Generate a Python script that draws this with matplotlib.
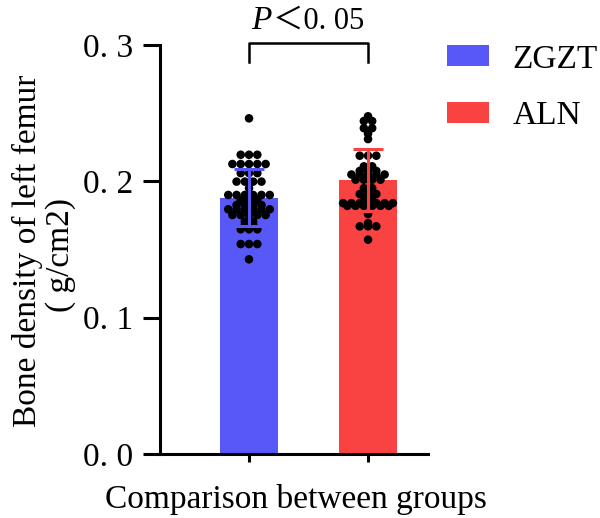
import numpy as np
import matplotlib
matplotlib.use("Agg")
import matplotlib.pyplot as plt
from matplotlib.patches import Patch

plt.rcParams['font.family'] = ['Liberation Serif', 'Noto Sans CJK SC']

# ---------------- data ----------------
groups = ["ZGZT", "ALN"]
bar_colors = ["#5858F9", "#F94343"]
means = [0.188, 0.201]
sds = [0.021, 0.0225]

zgzt_values = [0.2462,
               0.2195, 0.2195, 0.2195,
               0.2127, 0.2127, 0.2127, 0.2127, 0.2127,
               0.2060, 0.2060, 0.2060,
               0.1998, 0.1998, 0.1998, 0.1998,
               0.1950,
               0.1900, 0.1900, 0.1900, 0.1900, 0.1900, 0.1900,
               0.1863, 0.1863, 0.1863,
               0.1826, 0.1826, 0.1826, 0.1826,
               0.1795, 0.1795, 0.1795, 0.1795, 0.1795, 0.1795,
               0.1753, 0.1753, 0.1753, 0.1753, 0.1753,
               0.1704, 0.1704,
               0.1680, 0.1680,
               0.1648, 0.1648, 0.1648,
               0.1540, 0.1540, 0.1540,
               0.1428]
aln_values = [0.2477, 0.2442, 0.2442, 0.2390, 0.2390, 0.2350, 0.2310,
              0.2188, 0.2188, 0.2188,
              0.2110, 0.2110,
              0.2076, 0.2076, 0.2076,
              0.2050, 0.2050, 0.2050, 0.2050, 0.2050,
              0.2012, 0.2012, 0.2012, 0.2012,
              0.1950, 0.1950,
              0.1907, 0.1907, 0.1907,
              0.1878, 0.1878,
              0.1840, 0.1840, 0.1840, 0.1840, 0.1840, 0.1840, 0.1840,
              0.1820, 0.1820, 0.1820, 0.1820, 0.1820, 0.1820,
              0.1760,
              0.1694,
              0.1670, 0.1670, 0.1670,
              0.1572]
group_values = [zgzt_values, aln_values]

yticks = [0.0, 0.1, 0.2, 0.3]
ytick_labels = ["0. 0", "0. 1", "0. 2", "0. 3"]
ylabel_line1 = "Bone density of left femur"
ylabel_line2 = "( g/cm2)"
xlabel = "Comparison between groups"
p_symbol = "P"
p_rest = "＜0. 05"

# ---------------- figure ----------------
W, H = 600, 518
fig = plt.figure(figsize=(W / 100, H / 100), dpi=100)
ax = fig.add_axes([160 / W, (H - 454) / H, (428 - 160) / W, (454 - 45) / H])
x = np.arange(len(groups))
ax.set_xlim(-0.748, 1.504)
ax.set_ylim(0, 0.3)

ax.bar(x, means, width=0.487, color=bar_colors, edgecolor='none', zorder=1)

# scatter: equal values spread side by side (column-scatter style), spacing in pixels
dot_step_px = 8.3
def spread(vals, xc):
    vals = np.asarray(vals)
    offs = np.zeros(len(vals))
    for v in np.unique(vals):
        idx = np.where(vals == v)[0]
        n = len(idx)
        offs[idx] = (np.arange(n) - (n - 1) / 2) * dot_step_px
    pts = ax.transData.transform(np.column_stack([np.full(len(vals), xc), vals]))
    pts[:, 0] += offs
    return ax.transData.inverted().transform(pts)[:, 0]

for xi, vals in zip(x, group_values):
    xs = spread(vals, xi)
    ax.scatter(xs, vals, s=38, color='black', edgecolors='none', zorder=3)

for xi, m, s, c in zip(x, means, sds, bar_colors):
    ax.errorbar(xi, m, yerr=s, color=c, capsize=10.5, elinewidth=2.2,
                capthick=2.2, zorder=4)

# axes styling
for side in ['top', 'right']:
    ax.spines[side].set_visible(False)
for side in ['left', 'bottom']:
    ax.spines[side].set_linewidth(2.2)
ax.set_yticks(yticks)
ax.set_yticklabels(ytick_labels, fontsize=24)
ax.tick_params(axis='y', length=12, width=2.2, pad=7)
ax.set_xticks(x)
ax.set_xticklabels([])
ax.tick_params(axis='x', length=6, width=2.2)

fig.text(27 / W, (H - 251) / H, ylabel_line1, rotation=90, ha='center', va='center',
         fontsize=24)
fig.text(61 / W, (H - 255) / H, ylabel_line2, rotation=90, ha='center', va='center',
         fontsize=24)
fig.text(296 / W, (H - 508) / H, xlabel, ha='center', va='baseline', fontsize=24)

# significance bracket
ax.plot([x[0], x[0], x[1], x[1]], [0.2875, 0.3015, 0.3015, 0.2875],
        color='black', lw=1.8, clip_on=False)
fig.text(272 / W, (H - 29) / H, p_symbol, ha='right', va='baseline', fontsize=24,
         style='italic')
fig.text(273 / W, (H - 29) / H, p_rest, ha='left', va='baseline', fontsize=22)

handles = [Patch(facecolor=c, edgecolor='none', label=g) for g, c in zip(groups, bar_colors)]
fig.legend(handles=handles, loc='upper left', bbox_to_anchor=(447 / W, (H - 44) / H),
           frameon=False, fontsize=24, handlelength=1.27, handleheight=0.6,
           handletextpad=0.7, labelspacing=0.78, borderpad=0, borderaxespad=0)

fig.savefig("out.png", dpi=100)
